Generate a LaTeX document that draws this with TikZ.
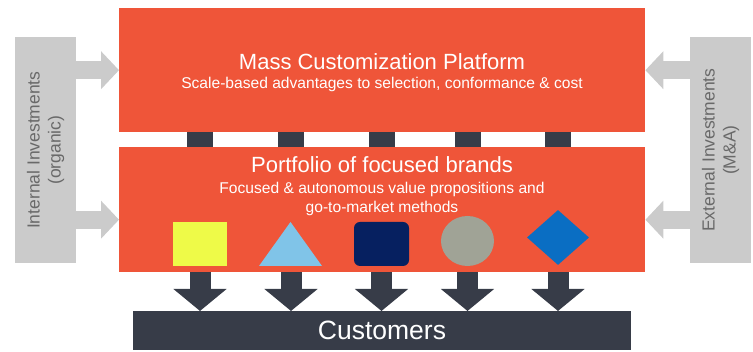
\documentclass[tikz,border=0pt]{standalone}
\usepackage{fontspec}
\setmainfont{Liberation Sans}
\usetikzlibrary{arrows.meta, shapes.geometric}

\definecolor{mcred}{RGB}{239,85,57}
\definecolor{mcdark}{RGB}{55,60,72}
\definecolor{mcgray}{RGB}{203,203,203}
\definecolor{mcgraytext}{RGB}{105,105,105}
\definecolor{brandyellow}{RGB}{238,250,72}
\definecolor{brandsky}{RGB}{128,196,232}
\definecolor{brandnavy}{RGB}{6,32,96}
\definecolor{brandstone}{RGB}{160,163,150}
\definecolor{brandblue}{RGB}{10,110,195}

\begin{document}
\begin{tikzpicture}[x = 1pt, y = -1pt,
    layer/.style = {fill = mcred, inner sep = 0pt, anchor = north west,
                    minimum width = 526pt},
    sidebox/.style = {fill = mcgray, inner sep = 0pt, anchor = north west,
                      minimum width = 61pt, minimum height = 226pt},
    sidetext/.style = {text = mcgraytext, align = center, rotate = 90,
                       font = \fontsize{17.5}{21}\selectfont},
    headline/.style = {text = white, anchor = base,
                       font = \fontsize{22}{26}\selectfont},
    subline/.style = {text = white, anchor = base, align = center,
                      font = \fontsize{15.6}{19}\selectfont},
    brand/.style = {inner sep = 0pt},
    joint/.style = {draw = mcdark, line width = 26pt},
    flow/.style = {draw = mcdark, line width = 21pt,
                   -{Triangle[length = 22pt, width = 52pt]}},
    feed/.style = {draw = mcgray, line width = 18pt,
                   -{Triangle[length = 18pt, width = 37pt]}}]
  \useasboundingbox (0, 0) rectangle (753, 352);

  % side boxes
  \node[sidebox] (internal) at (15, 37) {};
  \node[sidebox] (external) at (690, 37) {};
  \node[sidetext] (internaltext) at (internal.center)
    {Internal Investments\\(organic)};
  \node[sidetext] (externaltext) at (external.center)
    {External Investments\\(M\&A)};

  % the two layers
  \node[layer, minimum height = 124pt] (platform) at (119, 8) {};
  \node[layer, minimum height = 125pt] (portfolio) at (119, 147) {};
  \node[headline] (platformtitle) at (382, 69.5) {Mass Customization Platform};
  \node[subline] (platformsub) at (382, 89)
    {Scale-based advantages to selection, conformance \& cost};
  \node[headline] (portfoliotitle) at (382, 172.5) {Portfolio of focused brands};
  \node[subline] (portfoliosub) at (382, 194)
    {Focused \& autonomous value propositions and};
  \node[subline] (portfoliosubb) at (382, 213) {go-to-market methods};

  % brands
  \node[brand, fill = brandyellow, minimum width = 54pt, minimum height = 44pt]
    (b1) at (200, 244) {};
  \coordinate (b2) at (291, 244);
  \fill[brandsky] (259, 266) -- (290.5, 222) -- (322, 266) -- cycle;
  \node[brand, fill = brandnavy, rounded corners = 6pt,
        minimum width = 55pt, minimum height = 44pt] (b3) at (381.5, 244) {};
  \node[brand, fill = brandstone, ellipse, minimum width = 53pt,
        minimum height = 50pt] (b4) at (467.5, 241) {};
  \node[brand, fill = brandblue, diamond, minimum width = 62pt,
        minimum height = 55pt] (b5) at (558, 237.5) {};

  % customers
  \node[fill = mcdark, inner sep = 0pt, anchor = north west,
        minimum width = 498pt, minimum height = 39pt] (customers) at (133, 311) {};
  \node[text = white, anchor = base, font = \fontsize{26.5}{30}\selectfont]
    (customerstext) at (382, 340) {Customers};

  % connectors
  \foreach \b in {b1, b2, b3, b4, b5} {
    \draw[joint] (platform.south -| \b) -- (portfolio.north -| \b);
    \draw[flow] (portfolio.south -| \b) -- (customers.north -| \b);
  }
  \draw[feed] (internal.east |- platform.west) -- (platform.west);
  \draw[feed] ([yshift = -10pt] internal.east |- portfolio.west)
    -- ([yshift = -10pt] portfolio.west);
  \draw[feed] (external.west |- platform.east) -- (platform.east);
  \draw[feed] ([yshift = -10pt] external.west |- portfolio.east)
    -- ([yshift = -10pt] portfolio.east);
\end{tikzpicture}
\end{document}
